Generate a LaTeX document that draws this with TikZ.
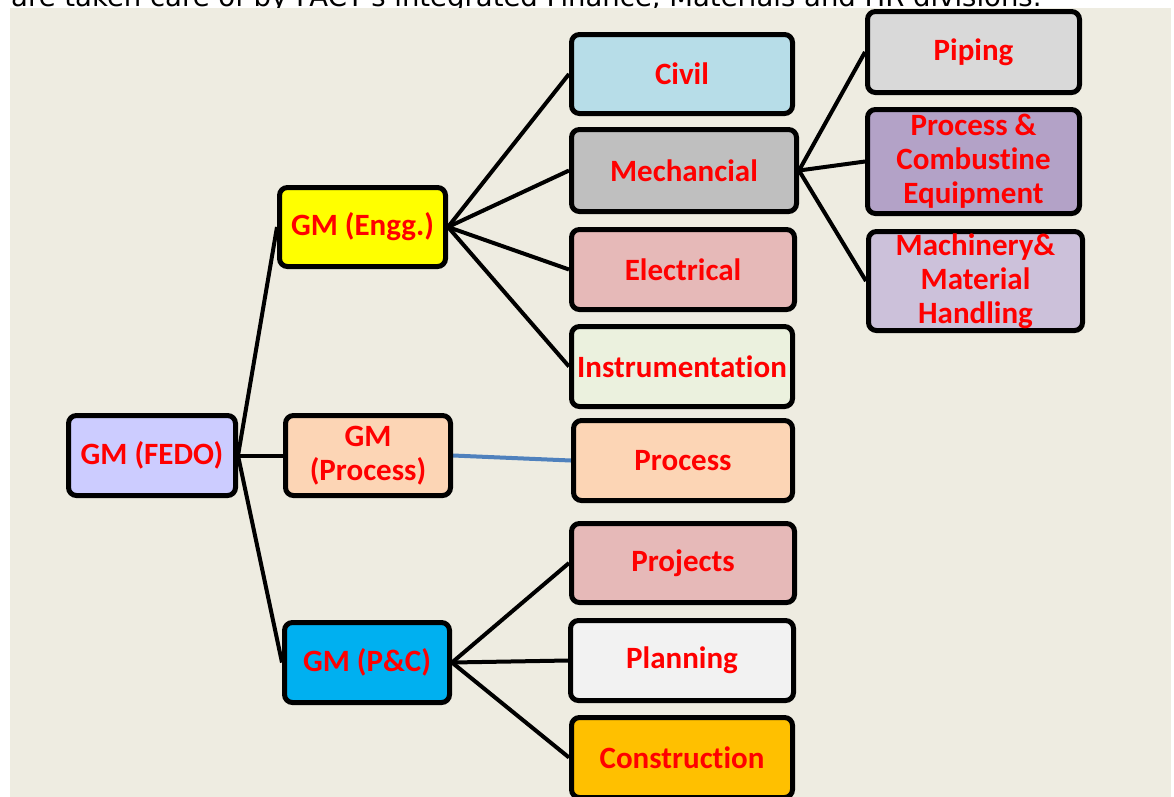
\documentclass[tikz,border=0pt]{standalone}
\usepackage{fontspec}
\setmainfont{Carlito}[Ligatures={NoCommon}]
\newfontfamily\topfont{DejaVu Sans}
\definecolor{bgbeige}{HTML}{EEECE1}
\definecolor{cFEDO}{HTML}{CCCCFF}
\definecolor{cEngg}{HTML}{FFFF00}
\definecolor{cPeach}{HTML}{FCD5B5}
\definecolor{cPC}{HTML}{00B0F0}
\definecolor{cCivil}{HTML}{B7DDE8}
\definecolor{cMech}{HTML}{BFBFBF}
\definecolor{cRose}{HTML}{E6B9B8}
\definecolor{cInstr}{HTML}{EBF1DE}
\definecolor{cPlan}{HTML}{F2F2F2}
\definecolor{cCons}{HTML}{FFC000}
\definecolor{cPipe}{HTML}{D9D9D9}
\definecolor{cPCE}{HTML}{B3A2C7}
\definecolor{cMMH}{HTML}{CCC1DA}
\definecolor{cBlue}{HTML}{4F81BD}
\pgfdeclarelayer{back}
\pgfdeclarelayer{links}
\pgfsetlayers{back,links,main}
\tikzset{
  orgbox/.style={draw=black, line width=5pt, rounded corners=8pt,
    text=red, align=center, inner sep=0pt,
    font=\bfseries\fontsize{31}{34}\selectfont},
  conn/.style={draw=black, line width=4pt},
  bconn/.style={draw=cBlue, line width=4pt},
}
% box: name, fill, left, top, right, bottom, text
\newcommand{\obox}[7]{%
  \node[orgbox, fill=#2, minimum width={#5-#3-5}, minimum height={#6-#4-5}]
    (#1) at ({(#3+#5)/2},{(#4+#6)/2}) {#7};}
\begin{document}
\begin{tikzpicture}[x=1pt,y=-1pt]
\useasboundingbox (0,0) rectangle (1174,796);
\clip (0,0) rectangle (1174,796);
\begin{pgfonlayer}{back}
\fill[white] (0,0) rectangle (1174,796);
\node[anchor=base west, inner sep=0pt, font=\topfont\fontsize{27.5}{32}\selectfont] (toptext) at (11,6.5)
  {are taken care of by FACT's integrated Finance, Materials and HR divisions.};
\fill[bgbeige] (10,8) rectangle (1171,800);
\end{pgfonlayer}

\obox{fedo}{cFEDO}{66}{413}{238}{498}{GM (FEDO)}
\obox{engg}{cEngg}{277}{185}{448}{269}{GM (Engg.)}
\obox{gmproc}{cPeach}{283}{413}{453}{498}{GM\\(Process)}
\obox{pc}{cPC}{282}{620}{452}{705}{GM (P\&C)}

\obox{civil}{cCivil}{569}{32}{795}{116}{Civil}
\obox{mech}{cMech}{569}{127}{799}{214}{Mechancial}
\obox{elec}{cRose}{569}{227}{797}{312}{Electrical}
\obox{instr}{cInstr}{569}{324}{795}{409}{Instrumentation}
\obox{proc}{cPeach}{571}{418}{795}{503}{Process}
\obox{proj}{cRose}{569}{521}{797}{605}{Projects}
\obox{plan}{cPlan}{568}{618}{796}{703}{Planning}
\obox{cons}{cCons}{569}{715}{795}{800}{Construction}

\obox{pipe}{cPipe}{865}{9}{1082}{95}{Piping}
\obox{pce}{cPCE}{865}{107}{1082}{216}{Process \&\\Combustine\\Equipment}
\obox{mmh}{cMMH}{866}{229}{1085}{333}{Machinery\&\\Material\\Handling}

\begin{pgfonlayer}{links}
\draw[conn] (fedo.east) -- (engg.west);
\draw[conn] (fedo.east) -- (gmproc.west);
\draw[conn] (fedo.east) -- (pc.west);
\draw[conn] (engg.east) -- (civil.west);
\draw[conn] (engg.east) -- (mech.west);
\draw[conn] (engg.east) -- (elec.west);
\draw[conn] (engg.east) -- (instr.west);
\draw[bconn] (gmproc.east) -- (proc.west);
\draw[conn] (pc.east) -- (proj.west);
\draw[conn] (pc.east) -- (plan.west);
\draw[conn] (pc.east) -- (cons.west);
\draw[conn] (mech.east) -- (pipe.west);
\draw[conn] (mech.east) -- (pce.west);
\draw[conn] (mech.east) -- (mmh.west);
\end{pgfonlayer}
\end{tikzpicture}
\end{document}
